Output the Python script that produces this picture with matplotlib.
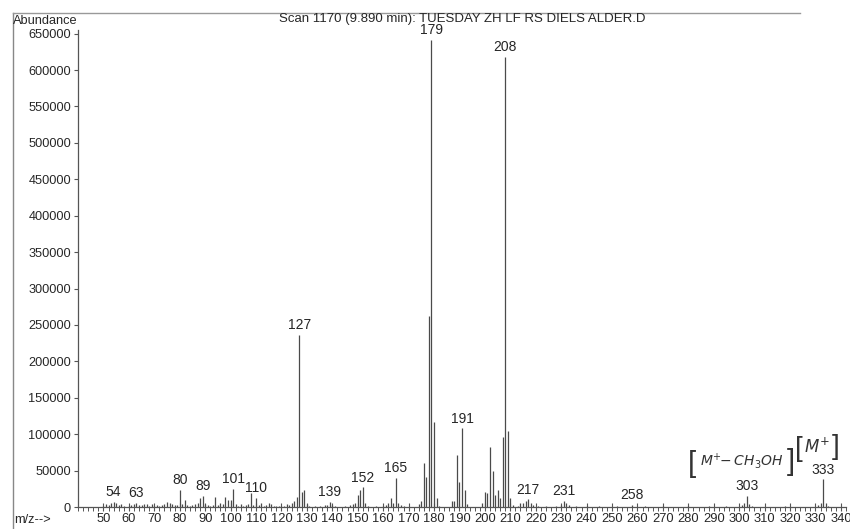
import matplotlib
matplotlib.use("Agg")
import matplotlib.pyplot as plt
from matplotlib.lines import Line2D
from matplotlib.ticker import MultipleLocator, FixedLocator

plt.rcParams['font.family'] = ['Liberation Sans', 'DejaVu Sans']
plt.rcParams['mathtext.fontset'] = 'dejavusans'

# Mass spectrum (m/z vs abundance)
mz = [50, 51, 52, 53, 54, 55, 56, 57, 58, 60, 61, 62, 63, 64, 65, 66, 67, 68, 69, 70,
      71, 72, 73, 74, 75, 76, 77, 78, 79, 80, 81, 82, 83, 84, 85, 86, 87, 88, 89, 90,
      91, 92, 93, 94, 95, 96, 97, 98, 99, 100, 101, 102, 103, 104, 105, 106, 107, 108,
      109, 110, 111, 112, 113, 114, 115, 116, 117, 118, 119, 120, 121, 122, 123, 124,
      125, 126, 127, 128, 129, 130, 131, 133, 135, 137, 138, 139, 140, 141, 145, 147,
      148, 149, 150, 151, 152, 153, 154, 157, 160, 161, 162, 163, 164, 165, 166, 167,
      168, 174, 175, 176, 177, 178, 179, 180, 181, 182, 187, 188, 189, 190, 191, 192,
      193, 199, 200, 201, 202, 203, 204, 205, 206, 207, 208, 209, 210, 211, 213, 214,
      215, 216, 217, 218, 219, 221, 224, 228, 230, 231, 232, 233, 236, 240, 245, 252,
      258, 263, 270, 280, 288, 295, 301, 302, 303, 304, 305, 318, 331, 332, 333, 334, 335]
abundance = [2000, 4000, 2500, 5000, 7000, 5500, 2500, 4000, 1500, 2000, 3000, 3500, 5500,
             3000, 2500, 4500, 3500, 2000, 4000, 1500, 2500, 1500, 3000, 4500, 7000, 5500,
             4000, 3000, 2500, 23000, 4000, 9000, 2500, 1500, 2500, 3500, 6000, 12000,
             15000, 3500, 3000, 1500, 2500, 14000, 3000, 6000, 3500, 14000, 10000, 9000,
             25000, 3500, 2000, 4000, 1500, 2500, 3500, 19000, 3000, 13000, 3000, 5000,
             2000, 3000, 6000, 4000, 2000, 1500, 2000, 1500, 2000, 3500, 2500, 5000, 8000,
             14000, 236000, 21000, 23000, 3500, 2000, 1500, 2000, 2500, 3000, 7000, 2500,
             1500, 2000, 2500, 3500, 6000, 16000, 24000, 27000, 5000, 2000, 1500, 2000,
             3000, 5000, 12000, 6000, 40000, 6000, 2500, 1500, 4000, 8000, 60000, 41000,
             262000, 641000, 117000, 12000, 2000, 8000, 8000, 71000, 35000, 108000, 23000,
             4000, 5000, 20000, 19000, 82000, 50000, 16000, 23000, 12000, 96000, 618000,
             105000, 12000, 2500, 2000, 5000, 5500, 8500, 10500, 5000, 2500, 1500, 1500,
             2000, 3000, 8500, 5000, 2500, 1500, 1500, 1500, 1500, 2500, 1500, 1500, 1500,
             1500, 1500, 3000, 5000, 15000, 4000, 2000, 1500, 3000, 5000, 38000, 6000, 2000]

labeled_mz = [54, 63, 80, 89, 101, 110, 127, 139, 152, 165, 179, 191, 208, 217, 231,
              258, 303, 333]

x_ticks = list(range(50, 341, 10))
y_ticks = list(range(0, 650001, 50000))

title = "Scan 1170 (9.890 min): TUESDAY ZH LF RS DIELS ALDER.D"
ink = "#262626"
bar_color = "#4a4a4a"
note_color = "#333333"

fig = plt.figure(figsize=(8.5, 5.29), dpi=100)
ax = fig.add_axes([78 / 850, 22 / 529, 768 / 850, 477 / 529])

ax.vlines(mz, 0, abundance, color=bar_color, linewidth=0.9)

lookup = dict(zip(mz, abundance))
for m in labeled_mz:
    ax.annotate(str(m), (m, lookup[m]), xytext=(0, 2), textcoords="offset points",
                ha="center", va="bottom", fontsize=10, color=ink)

ax.set_xlim(40, 342)
ax.set_ylim(0, 655000)

ax.xaxis.set_major_locator(FixedLocator(x_ticks))
ax.xaxis.set_minor_locator(MultipleLocator(2))
ax.yaxis.set_major_locator(FixedLocator(y_ticks))
ax.set_xticklabels([str(v) for v in x_ticks])
ax.set_yticklabels([str(v) for v in y_ticks])

for side in ("top", "right"):
    ax.spines[side].set_visible(False)
for side in ("left", "bottom"):
    ax.spines[side].set_color("#555555")
    ax.spines[side].set_linewidth(0.9)

ax.tick_params(axis="x", which="major", direction="inout", length=6, width=0.8,
               colors="#555555", labelcolor=ink, labelsize=9.3, pad=1)
ax.tick_params(axis="x", which="minor", direction="out", length=3, width=0.7,
               colors="#555555")
ax.tick_params(axis="y", which="major", direction="out", length=3, width=0.8,
               colors="#555555", labelcolor=ink, labelsize=9.2, pad=2)

fig.text(462 / 850, 1 - 19 / 529, title, ha="center", va="center", fontsize=9.5, color=ink)
fig.text(13 / 850, 1 - 21 / 529, "Abundance", ha="left", va="center", fontsize=9.2, color=ink)
fig.text(14 / 850, 1 - 520 / 529, "m/z-->", ha="left", va="center", fontsize=9.2, color=ink)

# printout border along the top and left edges
fig.add_artist(Line2D([13 / 850, 13 / 850], [0, 1 - 13 / 529], transform=fig.transFigure,
                      color="#888888", linewidth=1.0))
fig.add_artist(Line2D([13 / 850, 800 / 850], [1 - 13 / 529, 1 - 13 / 529],
                      transform=fig.transFigure, color="#999999", linewidth=1.0))

# hand-written fragment annotations
def bracket_note(x0, x1, y, inner, size, bsize):
    fig.text(x0 / 850, 1 - y / 529, "[", ha="center", va="center", fontsize=bsize,
             color=note_color)
    fig.text((x0 + x1) / 2 / 850, 1 - (y - 3) / 529, inner, ha="center", va="center",
             fontsize=size, color=note_color, style="italic")
    fig.text(x1 / 850, 1 - (y - 2) / 529, "]", ha="center", va="center", fontsize=bsize,
             color=note_color)

bracket_note(692, 791, 464, r"$M^{+}\!\!-CH_3OH$", 10, 21)
bracket_note(799, 836, 449, r"$M^{+}$", 12, 20)

fig.savefig("out.png", dpi=100)
